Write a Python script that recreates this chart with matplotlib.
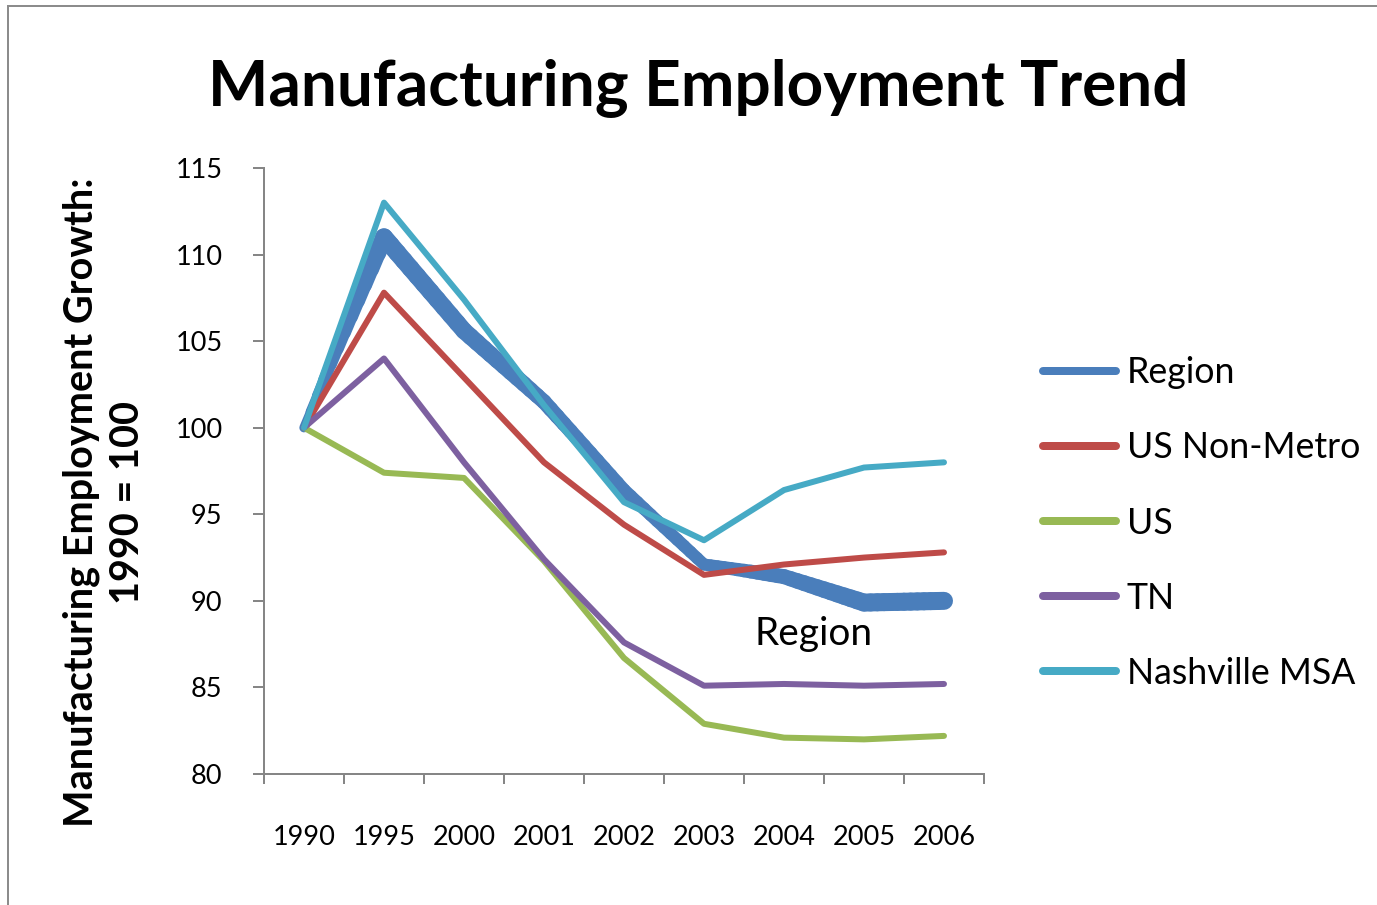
import numpy as np
import matplotlib
matplotlib.use("Agg")
import matplotlib.pyplot as plt
from matplotlib.collections import LineCollection
from matplotlib.lines import Line2D
from matplotlib.patches import Rectangle

plt.rcParams['font.family'] = ['Lato', 'DejaVu Sans']

years = ["1990", "1995", "2000", "2001", "2002", "2003", "2004", "2005", "2006"]
region = [100.0, 111.0, 105.6, 101.5, 96.4, 92.1, 91.4, 89.9, 90.0]
us_non_metro = [100.0, 107.8, 102.9, 98.0, 94.4, 91.5, 92.1, 92.5, 92.8]
us = [100.0, 97.4, 97.1, 92.3, 86.7, 82.9, 82.1, 82.0, 82.2]
tn = [100.0, 104.0, 98.0, 92.4, 87.6, 85.1, 85.2, 85.1, 85.2]
nashville = [100.0, 113.0, 107.4, 101.3, 95.7, 93.5, 96.4, 97.7, 98.0]

series_names = ["Region", "US Non-Metro", "US", "TN", "Nashville MSA"]
colors = ["#4A7EBB", "#BE4B48", "#98B954", "#7D60A0", "#46AAC5"]

# stroke width (pixels) of the highlighted Region line at each year
region_px = [9, 18, 17, 15, 13, 12, 15, 18, 18]

DPI = 100
fig = plt.figure(figsize=(13.77, 9.05), dpi=DPI)
px = 72.0 / DPI

# chart frame
fig.patches.append(Rectangle((8 / 1377, -0.05), 1.2, 1 - 6 / 905 + 0.05,
                             transform=fig.transFigure, fill=False,
                             edgecolor="#8C8C8C", linewidth=2 * px))

ax = fig.add_axes([264 / 1377, 1 - 774 / 905, 720 / 1377, 606 / 905])
x = np.arange(len(years))

lw = 6 * px
for vals, col in [(us_non_metro, colors[1]), (us, colors[2]),
                  (tn, colors[3]), (nashville, colors[4])]:
    ax.plot(x, vals, color=col, lw=lw, solid_capstyle="round",
            solid_joinstyle="round", zorder=3)

# Region drawn as a tapered stroke
segs, widths = [], []
steps = 12
for i in range(len(x) - 1):
    for k in range(steps):
        t0, t1 = k / steps, (k + 1) / steps
        p0 = (x[i] + t0, region[i] + (region[i + 1] - region[i]) * t0)
        p1 = (x[i] + t1, region[i] + (region[i + 1] - region[i]) * t1)
        segs.append([p0, p1])
        w = region_px[i] + (region_px[i + 1] - region_px[i]) * (t0 + t1) / 2
        widths.append(w * px)
lc = LineCollection(segs, colors=colors[0], linewidths=widths,
                    capstyle="round", joinstyle="round", zorder=2)
ax.add_collection(lc)

ax.set_xlim(-0.5, len(years) - 0.5)
ax.set_ylim(80, 115)
ax.set_yticks(np.arange(80, 116, 5))
ax.set_xticks(np.arange(-0.5, len(years), 1.0))
ax.set_xticklabels([])
ax.set_xticks(x, minor=True)
ax.set_xticklabels(years, minor=True)

gray = "#868686"
for s in ["top", "right"]:
    ax.spines[s].set_visible(False)
for s in ["left", "bottom"]:
    ax.spines[s].set_color(gray)
    ax.spines[s].set_linewidth(2 * px)
ax.tick_params(axis="y", which="major", direction="out", length=11 * px,
               width=2 * px, color=gray, labelsize=19.5, pad=22)
ax.tick_params(axis="x", which="major", direction="out", length=10 * px,
               width=2 * px, color=gray)
ax.tick_params(axis="x", which="minor", length=0, labelsize=19.5, pad=37)

ax.text(6.375, 88.1, "Region", fontsize=28, ha="center", va="center")

fig.text(698 / 1377, 1 - 88 / 905, "Manufacturing Employment Trend",
         fontsize=46, fontweight="bold", ha="center", va="center")

fig.text(104 / 1377, 1 - 502 / 905,
         "Manufacturing Employment Growth:\n1990 = 100",
         fontsize=28.5, fontweight="bold", rotation=90, ha="center",
         va="center", multialignment="center", linespacing=1.3)

handles = [Line2D([], [], color=c, lw=8 * px, solid_capstyle="round")
           for c in colors]
fig.legend(handles, series_names, loc="center left",
           bbox_to_anchor=(1043 / 1377, 1 - 523 / 905), frameon=False,
           fontsize=25.7, handlelength=2.05, handletextpad=0.3,
           labelspacing=1.18, borderaxespad=0, borderpad=0)

fig.savefig("out.png", dpi=DPI)
